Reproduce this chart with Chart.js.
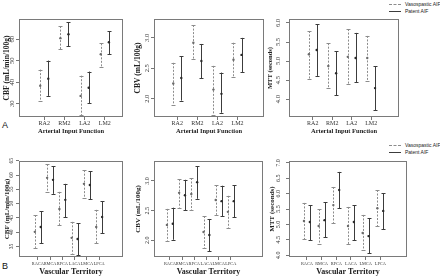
<!DOCTYPE html>
<html>
<head>
<meta charset="utf-8">
<script src="https://cdn.jsdelivr.net/npm/chart.js@4.4.1/dist/chart.umd.min.js"></script>
<style>
  body { margin: 0; width: 440px; height: 276px; overflow: hidden; background: #fff; position: relative; }
  canvas { position: absolute; }
  .tag { position: absolute; font: 9px "Liberation Sans", Arial, sans-serif; color: #111; }
  .leg { position: absolute; left: 389px; font: 5px "Liberation Sans", Arial, sans-serif; color: #222; white-space: nowrap; }
  .leg span { display: inline-block; width: 12px; margin-right: 4px; vertical-align: middle; }
  .dash { border-top: 1px dashed #8c8c8c; }
  .solid { border-top: 1px solid #3c3c3c; }
</style>
</head>
<body>
<div class="tag" style="left:2px;top:120px">A</div>
<div class="tag" style="left:2px;top:261px">B</div>
<div class="leg" style="top:1px"><span class="dash"></span>Vasospastic AIF</div>
<div class="leg" style="top:8px"><span class="solid"></span>Patent AIF</div>
<div class="leg" style="top:142px"><span class="dash"></span>Vasospastic AIF</div>
<div class="leg" style="top:149px"><span class="solid"></span>Patent AIF</div>
<script>
// categories
const aifLabels = ['RA2', 'RM2', 'LA2', 'LM2'];
const territoryLabels = ['RACA', 'RMCA', 'RPCA', 'LACA', 'LMCA', 'LPCA'];

// y tick values
const cbfTicksA = [30, 40, 50, 60];
const cbvTicksA = [2.0, 2.5, 3.0];
const mttTicksA = [4.0, 4.5, 5.0, 5.5, 6.0];
const cbfTicksB = [35, 40, 45, 50, 55, 60, 65];
const cbvTicksB = [2.0, 2.5, 3.0];
const mttTicksB = [4.0, 4.5, 5.0, 5.5, 6.0, 6.5, 7.0];

// A: CBF by arterial input function
const cbfAifVasoMean = [38.4, 60.5, 33.7, 53.0];
const cbfAifVasoLow = [31.4, 55.3, 24.8, 47.3];
const cbfAifVasoHigh = [45.9, 66.1, 43.1, 58.1];
const cbfAifPatMean = [41.7, 62.3, 37.5, 58.6];
const cbfAifPatLow = [33.7, 56.7, 30.4, 53.0];
const cbfAifPatHigh = [50.1, 68.0, 45.0, 63.8];

// A: CBV
const cbvAifVasoMean = [2.25, 2.92, 2.15, 2.64];
const cbvAifVasoLow = [1.90, 2.66, 1.74, 2.36];
const cbvAifVasoHigh = [2.59, 3.21, 2.54, 2.92];
const cbvAifPatMean = [2.34, 2.62, 2.08, 2.72];
const cbvAifPatLow = [1.97, 2.34, 1.77, 2.44];
const cbvAifPatHigh = [2.70, 2.90, 2.43, 3.00];

// A: MTT
const mttAifVasoMean = [5.18, 4.87, 5.11, 5.08];
const mttAifVasoLow = [4.53, 4.29, 4.39, 4.47];
const mttAifVasoHigh = [5.79, 5.47, 5.84, 5.66];
const mttAifPatMean = [5.29, 4.68, 5.08, 4.29];
const mttAifPatLow = [4.61, 4.10, 4.45, 3.71];
const mttAifPatHigh = [5.97, 5.26, 5.74, 4.87];

// B: CBF by vascular territory
const cbfTerVasoMean = [40.1, 59.0, 48.1, 38.0, 56.9, 41.8];
const cbfTerVasoLow = [34.5, 54.1, 42.5, 32.4, 52.0, 36.2];
const cbfTerVasoHigh = [46.0, 63.8, 54.1, 43.6, 61.7, 47.8];
const cbfTerPatMean = [41.8, 58.3, 51.3, 37.6, 56.5, 45.3];
const cbfTerPatLow = [36.2, 53.4, 45.3, 32.0, 51.6, 39.7];
const cbfTerPatHigh = [47.4, 63.1, 56.9, 43.2, 61.4, 50.9];

// B: CBV
const cbvTerVasoMean = [2.26, 2.80, 2.78, 2.14, 2.68, 2.48];
const cbvTerVasoLow = [1.99, 2.55, 2.51, 1.87, 2.43, 2.21];
const cbvTerVasoHigh = [2.53, 3.03, 3.05, 2.41, 2.93, 2.75];
const cbvTerPatMean = [2.28, 2.76, 2.98, 2.09, 2.66, 2.66];
const cbvTerPatLow = [2.01, 2.51, 2.70, 1.82, 2.41, 2.39];
const cbvTerPatHigh = [2.55, 3.02, 3.25, 2.36, 2.92, 2.93];

// B: MTT
const mttTerVasoMean = [5.11, 4.95, 5.63, 4.95, 4.72, 5.53];
const mttTerVasoLow = [4.52, 4.36, 5.05, 4.36, 4.17, 4.95];
const mttTerVasoHigh = [5.70, 5.50, 6.22, 5.57, 5.31, 6.12];
const mttTerPatMean = [5.08, 5.14, 6.12, 5.08, 4.62, 5.44];
const mttTerPatLow = [4.49, 4.59, 5.53, 4.49, 4.07, 4.85];
const mttTerPatHigh = [5.63, 5.73, 6.71, 5.63, 5.21, 6.02];

const SERIF = '"Liberation Serif", "Times New Roman", serif';
const VASO_COLOR = '#8c8c8c';
const PAT_COLOR = '#3c3c3c';

// whiskers, frame and rotated y tick labels
const errorBars = {
    id: 'errorBars',
    beforeDatasetsDraw(chart) {
        const ctx = chart.ctx;
        const xs = chart.scales.x, ys = chart.scales.y;
        chart.data.datasets.forEach(ds => {
            ctx.save();
            ctx.strokeStyle = ds.lineColor;
            ctx.lineWidth = 1;
            ds.data.forEach((p, i) => {
                const px = Math.round(xs.getPixelForValue(p.x)) + 0.5;
                const top = ys.getPixelForValue(ds.high[i]);
                const bot = ys.getPixelForValue(ds.low[i]);
                ctx.setLineDash(ds.dashed ? [2, 1.5] : []);
                ctx.beginPath();
                ctx.moveTo(px, top);
                ctx.lineTo(px, bot);
                ctx.stroke();
                ctx.setLineDash([]);
                ctx.beginPath();
                ctx.moveTo(px - 2, Math.round(top) + 0.5);
                ctx.lineTo(px + 2, Math.round(top) + 0.5);
                ctx.moveTo(px - 2, Math.round(bot) + 0.5);
                ctx.lineTo(px + 2, Math.round(bot) + 0.5);
                ctx.stroke();
            });
            ctx.restore();
        });
    },
    afterDraw(chart, args, opts) {
        const ctx = chart.ctx;
        const a = chart.chartArea;
        const ys = chart.scales.y;
        ctx.save();
        ctx.strokeStyle = '#7a7a7a';
        ctx.lineWidth = 1;
        ctx.strokeRect(Math.round(a.left) + 0.5, Math.round(a.top) + 0.5,
            Math.round(a.right - a.left) - 1, Math.round(a.bottom - a.top) - 1);
        ctx.fillStyle = '#333';
        ctx.font = opts.size + 'px ' + SERIF;
        ctx.textAlign = 'center';
        ctx.textBaseline = 'middle';
        opts.ticks.forEach(t => {
            ctx.save();
            ctx.translate(a.left - opts.gap, ys.getPixelForValue(t));
            ctx.rotate(-Math.PI / 2);
            ctx.fillText(t.toFixed(opts.dec), 0, 0);
            ctx.restore();
        });
        ctx.restore();
    }
};

function buildPanel(p) {
    const yLh = p.yTitleSize * 1.2;
    const xLh = p.xTitleSize * 1.2;
    const cl = Math.floor(p.yTitleX - 6);
    const ct = p.box[1] - 4;
    const cw = p.box[2] + 3 - cl;
    const ch = Math.round(p.xTitleY + xLh / 2) - ct;
    const yw = p.box[0] - cl;
    const xh = ch - (p.box[3] - ct);

    const canvas = document.createElement('canvas');
    canvas.width = cw;
    canvas.height = ch;
    canvas.style.left = cl + 'px';
    canvas.style.top = ct + 'px';
    document.body.appendChild(canvas);

    const pts = arr => arr.map((v, i) => ({ x: i + 1, y: v }));
    const vaso = pts(p.vasoMean).map(d => ({ x: d.x - p.off, y: d.y }));
    const pat = pts(p.patMean).map(d => ({ x: d.x + p.off, y: d.y }));

    new Chart(canvas, {
        type: 'scatter',
        data: {
            datasets: [{
                label: 'Vasospastic AIF',
                data: vaso,
                low: p.vasoLow,
                high: p.vasoHigh,
                dashed: true,
                lineColor: VASO_COLOR,
                pointRadius: 1.2,
                pointBorderWidth: 0,
                pointBackgroundColor: '#6a6a6a'
            }, {
                label: 'Patent AIF',
                data: pat,
                low: p.patLow,
                high: p.patHigh,
                dashed: false,
                lineColor: PAT_COLOR,
                pointRadius: 1.2,
                pointBorderWidth: 0,
                pointBackgroundColor: '#2a2a2a'
            }]
        },
        options: {
            responsive: false,
            animation: false,
            devicePixelRatio: 1,
            layout: { padding: { top: 4, right: 3, left: 0, bottom: 0 } },
            plugins: {
                legend: { display: false },
                tooltip: { enabled: false },
                errorBars: { ticks: p.yTicks, dec: p.dec, gap: p.tickGap, size: p.tickSize }
            },
            scales: {
                x: {
                    type: 'linear',
                    min: p.xMin,
                    max: p.xMax,
                    afterBuildTicks: s => { s.ticks = p.labels.map((l, i) => ({ value: i + 1 })); },
                    afterFit: s => { s.height = xh; },
                    ticks: {
                        callback: v => p.labels[v - 1],
                        autoSkip: false,
                        maxRotation: 0,
                        padding: p.xLabelPad,
                        color: '#333',
                        font: { family: SERIF, size: p.xLabelSize }
                    },
                    grid: { drawOnChartArea: false, drawTicks: true, tickLength: 3, color: '#777' },
                    border: { display: false },
                    title: {
                        display: true,
                        text: p.xTitle,
                        color: '#222',
                        padding: { top: 0, bottom: (ct + ch) - xLh / 2 - p.xTitleY },
                        font: { family: SERIF, size: p.xTitleSize, weight: 'bold' }
                    }
                },
                y: {
                    type: 'linear',
                    min: p.yMin,
                    max: p.yMax,
                    afterBuildTicks: s => { s.ticks = p.yTicks.map(v => ({ value: v })); },
                    afterFit: s => { s.width = yw; },
                    ticks: { display: false },
                    grid: { drawOnChartArea: false, drawTicks: true, tickLength: 3, color: '#777' },
                    border: { display: false },
                    title: {
                        display: true,
                        text: p.yTitle,
                        color: '#222',
                        padding: { top: p.yTitleX - cl - yLh / 2, bottom: 0 },
                        font: { family: SERIF, size: p.yTitleSize, weight: 'bold' }
                    }
                }
            }
        },
        plugins: [errorBars]
    });
}

const rowA = { labels: aifLabels, xTitle: 'Arterial Input Function', xTitleY: 131, xTitleSize: 6.5, xLabelSize: 6, xLabelPad: 0, off: 0.2 };
const rowB = { labels: territoryLabels, xTitle: 'Vascular Territory', xTitleY: 271.5, xTitleSize: 8, xLabelSize: 4.3, xLabelPad: 1, off: 0.24 };

buildPanel(Object.assign({}, rowA, {
    box: [19, 19, 124, 117], yTitle: 'CBF (mL/min/100g)', yTitleX: 7, yTitleSize: 7.5,
    xMin: -0.25, xMax: 4.9, yMin: 23.9, yMax: 69.4, yTicks: cbfTicksA, dec: 0, tickGap: 7, tickSize: 6.5,
    vasoMean: cbfAifVasoMean, vasoLow: cbfAifVasoLow, vasoHigh: cbfAifVasoHigh,
    patMean: cbfAifPatMean, patLow: cbfAifPatLow, patHigh: cbfAifPatHigh
}));
buildPanel(Object.assign({}, rowA, {
    box: [154, 19, 265, 117], yTitle: 'CBV (mL/100g)', yTitleX: 138, yTitleSize: 7.5,
    xMin: -0.16, xMax: 5.32, yMin: 1.70, yMax: 3.31, yTicks: cbvTicksA, dec: 1, tickGap: 6.5, tickSize: 6.5,
    vasoMean: cbvAifVasoMean, vasoLow: cbvAifVasoLow, vasoHigh: cbvAifVasoHigh,
    patMean: cbvAifPatMean, patLow: cbvAifPatLow, patHigh: cbvAifPatHigh
}));
buildPanel(Object.assign({}, rowA, {
    box: [289, 19, 400, 117], yTitle: 'MTT (seconds)', yTitleX: 270, yTitleSize: 6.5,
    xMin: -0.22, xMax: 5.43, yMin: 3.53, yMax: 6.105, yTicks: mttTicksA, dec: 1, tickGap: 11, tickSize: 6.5,
    vasoMean: mttAifVasoMean, vasoLow: mttAifVasoLow, vasoHigh: mttAifVasoHigh,
    patMean: mttAifPatMean, patLow: mttAifPatLow, patHigh: mttAifPatHigh
}));
buildPanel(Object.assign({}, rowB, {
    box: [19, 161, 124, 257], yTitle: 'CBF (mL/min/100g)', yTitleX: 7, yTitleSize: 7,
    xMin: -0.53, xMax: 7.94, yMin: 31.3, yMax: 64.9, yTicks: cbfTicksB, dec: 0, tickGap: 7, tickSize: 5.5,
    vasoMean: cbfTerVasoMean, vasoLow: cbfTerVasoLow, vasoHigh: cbfTerVasoHigh,
    patMean: cbfTerPatMean, patLow: cbfTerPatLow, patHigh: cbfTerPatHigh
}));
buildPanel(Object.assign({}, rowB, {
    box: [154, 161, 264, 257], yTitle: 'CBV (mL/100g)', yTitleX: 138, yTitleSize: 7,
    xMin: -0.3, xMax: 8.64, yMin: 1.72, yMax: 3.336, yTicks: cbvTicksB, dec: 1, tickGap: 6.5, tickSize: 6,
    vasoMean: cbvTerVasoMean, vasoLow: cbvTerVasoLow, vasoHigh: cbvTerVasoHigh,
    patMean: cbvTerPatMean, patLow: cbvTerPatLow, patHigh: cbvTerPatHigh
}));
buildPanel(Object.assign({}, rowB, {
    box: [289, 161, 408, 257], yTitle: 'MTT (seconds)', yTitleX: 272, yTitleSize: 7,
    xMin: -0.22, xMax: 7.82, yMin: 3.94, yMax: 7.065, yTicks: mttTicksB, dec: 1, tickGap: 11, tickSize: 6,
    off: 0.2,
    vasoMean: mttTerVasoMean, vasoLow: mttTerVasoLow, vasoHigh: mttTerVasoHigh,
    patMean: mttTerPatMean, patLow: mttTerPatLow, patHigh: mttTerPatHigh
}));
</script>
</body>
</html>
